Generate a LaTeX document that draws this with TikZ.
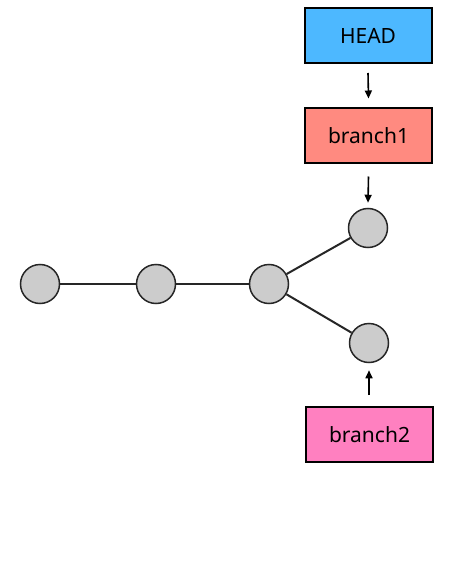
\documentclass[tikz,border=0pt]{standalone}
\usepackage{fontspec}
\setmainfont{Noto Sans}
\usetikzlibrary{arrows.meta}
\definecolor{headblue}{HTML}{4DB8FF}
\definecolor{salmon}{HTML}{FF8A80}
\definecolor{pinkb}{HTML}{FF80C0}
\definecolor{commitgray}{HTML}{CCCCCC}
\begin{document}
\begin{tikzpicture}[x=1pt,y=-1pt,
  refbox/.style={draw=black, line width=2pt, minimum width=127pt, minimum height=55pt, inner sep=0pt, font=\fontsize{21}{24}\selectfont},
  commit/.style={circle, draw=black!85, line width=1.5pt, fill=commitgray, minimum size=39pt, inner sep=0pt},
  edge/.style={line width=2pt, draw=black!85},
  ptr/.style={line width=1.6pt, -{Triangle[length=8pt,width=7pt]}}]
\useasboundingbox (0,0) rectangle (458,572);
\node[refbox, fill=headblue] (head) at (368,35.5) {HEAD};
\node[refbox, fill=salmon] (b1) at (368.5,136) {branch1};
\node[refbox, fill=pinkb] (b2) at (369.5,434.5) {branch2};
\node[commit] (c1) at (40,284) {};
\node[commit] (c2) at (156,284) {};
\node[commit] (c3) at (269,284) {};
\node[commit] (c4) at (368,228) {};
\node[commit] (c5) at (369,343) {};
\draw[edge] (c1) -- (c2);
\draw[edge] (c2) -- (c3);
\draw[edge] (c3) -- (c4);
\draw[edge] (c3) -- (c5);
\draw[ptr] ([yshift=-9pt]head.south) -- ([yshift=9pt]b1.north);
\draw[ptr] ([yshift=-12pt]b1.south) -- ([yshift=5pt]c4.north);
\draw[ptr] ([yshift=11pt]b2.north -| c5) -- ([yshift=-7pt]c5.south);
\end{tikzpicture}
\end{document}
